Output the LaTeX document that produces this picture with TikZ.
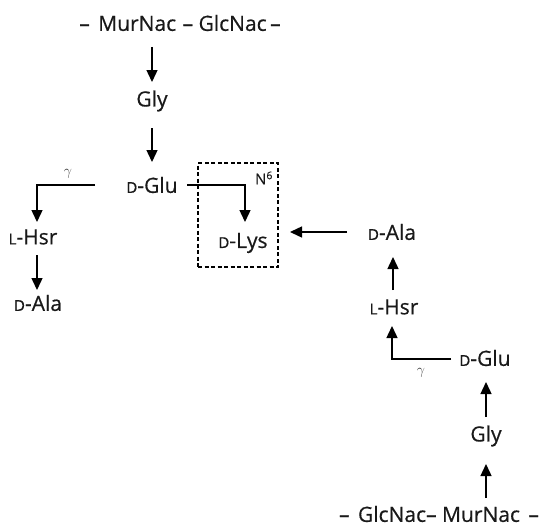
\documentclass[tikz,border=0pt]{standalone}
\usepackage{fontspec}
\setmainfont{Open Sans}[FakeBold=0.5]
\usetikzlibrary{arrows.meta}
\newcommand\smcap[1]{{\fontsize{15pt}{16pt}\selectfont #1}}
\begin{document}
\begin{tikzpicture}[x=1pt,y=-1pt,
  lbl/.style={inner sep=0pt,font=\fontsize{21pt}{22pt}\selectfont,text=black!90},
  arr/.style={line width=1.4pt,-{Triangle[width=11pt,length=12pt]}},
  gam/.style={inner sep=0pt,font=\fontsize{15pt}{16pt}\selectfont,text=black!75}]
\useasboundingbox (0,0) rectangle (545,527);
% labels (placed by cap-middle)
\node[lbl] (top) at (180,23) {–\hspace{3pt} MurNac\hspace{1pt} – GlcNac\,–};
\node[lbl] (gly1) at (152,101) {Gly};
\node[lbl] (glu1) at (152,185) {\smcap{D}-Glu};
\node[lbl] (hsr1) at (33,237) {\smcap{L}-Hsr};
\node[lbl] (ala1) at (38,303) {\smcap{D}-Ala};
\node[lbl] (lys) at (243,243) {\smcap{D}-Lys};
\node[lbl] (ala2) at (392,232) {\smcap{D}-Ala};
\node[lbl] (hsr2) at (394,307) {\smcap{L}-Hsr};
\node[lbl] (glu2) at (485,358) {\smcap{D}-Glu};
\node[lbl] (gly2) at (486,436) {Gly};
\node[lbl] (bot) at (439,514) {–\hspace{3pt} GlcNac– MurNac\hspace{3pt} –};
\node[inner sep=0pt,font=\fontsize{15pt}{16pt}\selectfont,text=black!90] (n6) at (264,178) {N\textsuperscript{6}};
\node[gam] (g1) at (68,174) {$\gamma$};
\node[gam] (g2) at (421,373) {$\gamma$};
\node[draw,line width=1.2pt,dash pattern=on 4pt off 2.5pt,minimum width=80pt,minimum height=104pt,inner sep=0pt] (box) at (238,215) {};
% connector end points
\coordinate (a1s) at (152,47);  \coordinate (a1e) at (152,82);
\coordinate (a2s) at (152,128); \coordinate (a2e) at (152,162);
\coordinate (b1s) at (95,185);  \coordinate (b1c) at (37,185); \coordinate (b1e) at (37,222);
\coordinate (a3s) at (37,255);  \coordinate (a3e) at (37,290);
\coordinate (c1s) at (187,185); \coordinate (c1c) at (245,185); \coordinate (c1e) at (245,222);
\coordinate (a4s) at (347,232); \coordinate (a4e) at (290,232);
\coordinate (a5s) at (393,290); \coordinate (a5e) at (393,257);
\coordinate (d1s) at (451,359); \coordinate (d1c) at (392,359); \coordinate (d1e) at (392,326);
\coordinate (a6s) at (486,417); \coordinate (a6e) at (486,382);
\coordinate (a7s) at (486,498); \coordinate (a7e) at (486,464);
% connectors
\draw[arr] (a1s) -- (a1e);
\draw[arr] (a2s) -- (a2e);
\draw[arr] (b1s) -- (b1c) -- (b1e);
\draw[arr] (a3s) -- (a3e);
\draw[arr] (c1s) -- (c1c) -- (c1e);
\draw[arr] (a4s) -- (a4e);
\draw[arr] (a5s) -- (a5e);
\draw[arr] (d1s) -- (d1c) -- (d1e);
\draw[arr] (a6s) -- (a6e);
\draw[arr] (a7s) -- (a7e);
\end{tikzpicture}
\end{document}
